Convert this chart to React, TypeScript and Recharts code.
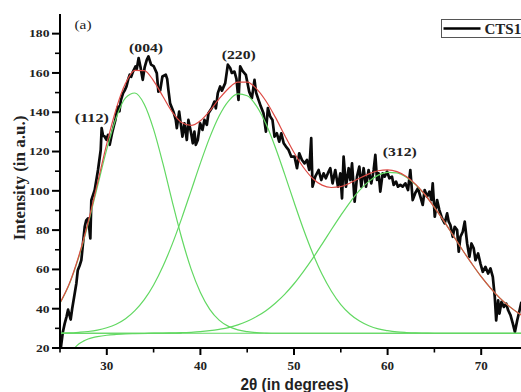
import React from 'react';
import { LineChart, Line, XAxis, YAxis, ReferenceDot } from 'recharts';

// Measured XRD pattern (2θ in degrees, intensity in a.u.)
const xrdTheta = [25.1, 25.3, 25.5, 25.7, 25.86, 26.0, 26.14, 26.3, 26.57, 26.75, 26.9, 27.1, 27.28, 27.45, 27.64, 27.8, 27.99, 28.1, 28.24, 28.35, 28.71, 29.06, 29.35, 29.45, 29.6, 29.78, 29.95, 30.13, 30.31, 30.56, 30.75, 30.92, 31.05, 31.2, 31.35, 31.5, 31.74, 31.9, 32.1, 32.3, 32.45, 32.6, 32.8, 33.06, 33.2, 33.4, 33.6, 33.84, 34.05, 34.27, 34.45, 34.73, 35.0, 35.34, 35.51, 35.7, 35.94, 36.3, 36.45, 36.58, 36.76, 37.12, 37.37, 37.48, 37.73, 37.94, 38.08, 38.29, 38.55, 38.72, 39.01, 39.19, 39.36, 39.51, 39.72, 39.97, 40.22, 40.43, 40.69, 40.86, 41.22, 41.5, 41.65, 41.86, 42.11, 42.3, 42.65, 42.93, 43.18, 43.36, 43.64, 43.85, 44.07, 44.25, 44.5, 44.86, 45.21, 45.5, 45.78, 45.95, 46.21, 46.45, 46.74, 47.0, 47.21, 47.46, 47.7, 47.92, 48.17, 48.42, 48.64, 48.9, 49.14, 49.42, 49.71, 50.06, 50.32, 50.56, 50.85, 51.13, 51.38, 51.63, 51.84, 51.98, 52.27, 52.63, 52.91, 53.16, 53.4, 53.7, 53.88, 54.12, 54.41, 54.7, 54.95, 55.13, 55.3, 55.55, 55.84, 56.02, 56.2, 56.48, 56.73, 56.98, 57.19, 57.44, 57.69, 57.97, 58.26, 58.51, 58.69, 58.87, 59.04, 59.22, 59.47, 59.69, 59.94, 60.19, 60.47, 60.65, 60.9, 61.11, 61.36, 61.61, 61.9, 62.18, 62.43, 62.68, 62.97, 63.25, 63.5, 63.75, 63.96, 64.22, 64.47, 64.68, 64.82, 65.04, 65.29, 65.53, 65.82, 66.1, 66.36, 66.53, 66.71, 66.96, 67.17, 67.43, 67.6, 67.78, 68.03, 68.24, 68.5, 68.74, 68.96, 69.2, 69.39, 69.67, 69.92, 70.17, 70.45, 70.74, 70.99, 71.24, 71.45, 71.6, 71.81, 71.95, 72.17, 72.42, 72.67, 72.88, 73.13, 73.38, 73.6, 73.85, 74.1, 74.3];
const xrdIntensity = [20.5, 28, 32.4, 36, 39.5, 37, 34.5, 40, 47.7, 53, 59.6, 62, 64.7, 73, 81.7, 85, 86, 82, 75.8, 95.3, 100.4, 110.6, 120.8, 131.9, 128, 127.6, 126, 128.5, 123.4, 129.3, 133, 136.1, 140, 142.9, 140.5, 146, 149.7, 151, 153.1, 157, 159.1, 158, 160.7, 163.3, 162, 167.6, 163, 156.5, 163, 166.7, 168.4, 164.2, 163.5, 159.9, 150.5, 151, 158.2, 159.1, 157, 151.4, 144.6, 140.3, 136.1, 131.9, 140.3, 132.7, 127.6, 134.4, 125.9, 136.1, 129.3, 124.2, 130.1, 123.4, 125.9, 134.4, 131, 136.1, 133.6, 139.5, 142.1, 145.4, 142, 149.7, 153.1, 151, 154.8, 164.2, 162.5, 160, 160.7, 157, 146.3, 163.3, 161, 159, 150.5, 147.2, 156.5, 150, 146.3, 143, 139.5, 130.1, 142.1, 137.8, 136.1, 127.6, 129.3, 125, 129.3, 124.2, 122.5, 120.8, 117.4, 117.4, 111.5, 119.1, 115.7, 114, 115.7, 110.6, 126.8, 102.1, 107.2, 110.6, 105.5, 108.9, 106.4, 109.8, 111.5, 103.8, 110.6, 102.1, 108.9, 96.2, 117.4, 102.1, 111.5, 105.5, 114, 94.5, 107.2, 112.3, 102.1, 111.5, 102.1, 110.6, 103.8, 110.6, 118.3, 105.5, 108.9, 99.6, 108.9, 107.2, 109.8, 106.4, 107.2, 103, 104.7, 102.1, 103, 102.1, 103.8, 100.4, 110.6, 95.3, 99, 101.3, 97, 92.8, 100.4, 97, 99.6, 95.3, 103.8, 86.8, 95.3, 90.2, 86, 83.4, 88.5, 84.3, 82.6, 76.6, 81.7, 80, 69, 76.6, 79.2, 84.3, 73.2, 66.4, 73.2, 70.7, 64.7, 68.1, 63, 58.8, 61.3, 57.9, 60.5, 56.2, 46, 34.1, 44.3, 37.5, 43.5, 40.9, 42.6, 39.2, 36.7, 32.4, 28.2, 34.1, 39.2, 43.5];

// Fitted curves, read at whole degrees 25..75
const fitTheta = [25, 26, 27, 28, 29, 30, 31, 32, 33, 34, 35, 36, 37, 38, 39, 40, 41, 42, 43, 44, 45, 46, 47, 48, 49, 50, 51, 52, 53, 54, 55, 56, 57, 58, 59, 60, 61, 62, 63, 64, 65, 66, 67, 68, 69, 70, 71, 72, 73, 74, 75];
const fitEnvelope = [42.9, 52.8, 66.7, 84.0, 103.8, 124.0, 141.7, 154.7, 161.3, 161.2, 156.0, 148.0, 140.1, 134.8, 133.3, 135.7, 140.7, 146.8, 152.1, 155.3, 155.3, 151.9, 145.7, 137.5, 128.3, 119.5, 112.0, 106.3, 102.9, 101.7, 102.1, 104.0, 106.4, 108.6, 110.2, 110.7, 109.8, 107.3, 103.3, 98.0, 91.6, 84.7, 77.3, 69.9, 62.9, 56.3, 50.5, 45.4, 41.2, 37.7, 34.9];
const peakA = [42.8, 52.6, 66.2, 83.1, 102.2, 121.2, 137.1, 147.3, 149.8, 144.1, 131.3, 113.8, 94.4, 76.0, 60.3, 48.3, 39.7, 34.2, 31.0, 29.2, 28.3, 27.8, 27.6, 27.5, 27.5, 27.5, 27.5, 27.5, 27.5, 27.5, 27.5, 27.5, 27.5, 27.5, 27.5, 27.5, 27.5, 27.5, 27.5, 27.5, 27.5, 27.5, 27.5, 27.5, 27.5, 27.5, 27.5, 27.5, 27.5, 27.5, 27.5];
const peakB = [27.6, 27.7, 28.0, 28.4, 29.1, 30.3, 32.1, 34.9, 39.0, 44.6, 52.1, 61.6, 73.0, 86.0, 100.0, 114.1, 127.2, 138.1, 145.7, 149.3, 148.4, 143.1, 134.1, 122.2, 108.5, 94.3, 80.6, 68.2, 57.5, 48.9, 42.1, 37.2, 33.7, 31.3, 29.7, 28.8, 28.2, 27.9, 27.7, 27.6, 27.5, 27.5, 27.5, 27.5, 27.5, 27.5, 27.5, 27.5, 27.5, 27.5, 27.5];
const peakC = [27.5, 27.5, 27.5, 27.5, 27.5, 27.5, 27.5, 27.5, 27.5, 27.5, 27.6, 27.6, 27.7, 27.8, 28.0, 28.3, 28.8, 29.5, 30.4, 31.8, 33.6, 36.0, 39.0, 42.8, 47.3, 52.7, 58.9, 65.6, 72.9, 80.3, 87.5, 94.3, 100.2, 104.8, 108.0, 109.4, 109.1, 106.9, 103.1, 97.9, 91.6, 84.7, 77.3, 69.9, 62.9, 56.3, 50.5, 45.4, 41.2, 37.7, 34.9];
const baseTheta = [25, 75];
const baseLevel = [27.5, 27.5];
const tailTheta = [26.6, 27.0, 27.5, 28.0, 28.5, 29.0, 30.0, 31.0, 32.0, 33.0, 35.0, 38.0];
const tailLevel = [20.2, 22.0, 23.5, 24.6, 25.3, 25.8, 26.5, 26.9, 27.2, 27.3, 27.4, 27.5];

// Axis ticks
const xTicks = [25, 30, 35, 40, 45, 50, 55, 60, 65, 70, 75];
const yTicks = [20, 30, 40, 50, 60, 70, 80, 90, 100, 110, 120, 130, 140, 150, 160, 170, 180];

// Annotations
const peakNames = ['(112)', '(004)', '(220)', '(312)'];
const peakNameTheta = [28.4, 34.2, 44.1, 61.3];
const peakNameIntensity = [137.2, 172.8, 169.3, 119.8];

const pairs = (xs: number[], ys: number[]) => xs.map((x, i) => ({ x, y: ys[i] }));

const xrdData = pairs(xrdTheta, xrdIntensity);
const envData = pairs(fitTheta, fitEnvelope);
const aData = pairs(fitTheta, peakA);
const bData = pairs(fitTheta, peakB);
const cData = pairs(fitTheta, peakC);
const baseData = pairs(baseTheta, baseLevel);
const tailData = pairs(tailTheta, tailLevel);

const SERIF = "Liberation Serif, Tinos, Times New Roman, serif";
const SANS = "Liberation Sans, Arimo, Arial, sans-serif";
const GREEN = '#62d862';
const RED = '#dd4a44';

const serifStyle = (size: number, bold: boolean) => ({
  fontFamily: SERIF,
  fontSize: size,
  fontWeight: bold ? 700 : 400,
});

const renderXTick = (props: any) => {
  const { x, y, payload } = props;
  const v = payload.value;
  const major = v % 10 === 0;
  return (
    <g>
      <line x1={x} y1={y} x2={x} y2={y + (major ? 7 : 4.5)} stroke="#000" strokeWidth={major ? 2 : 1.6} />
      {major && v < 75 ? (
        <text x={x} y={y + 21.5} textAnchor="middle" style={serifStyle(13, true)} fill="#222">
          {v}
        </text>
      ) : null}
    </g>
  );
};

const renderYTick = (props: any) => {
  const { x, y, payload } = props;
  const v = payload.value;
  const major = v % 20 === 0;
  const label = String(v);
  return (
    <g>
      <line x1={x - (major ? 8 : 5)} y1={y} x2={x} y2={y} stroke="#000" strokeWidth={major ? 2 : 1.6} />
      {major ? (
        <text
          x={x - 10.5}
          y={y + 3.8}
          textAnchor="end"
          style={serifStyle(11, true)}
          fill="#222"
          textLength={label.length === 3 ? 20.5 : 13.5}
          lengthAdjust="spacingAndGlyphs"
        >
          {label}
        </text>
      ) : null}
    </g>
  );
};

const XTitle = (props: any) => {
  const vb = props.viewBox || { x: 60, y: 348, width: 467.5, height: 44 };
  return (
    <text
      x={vb.x + vb.width / 2 + 0.5}
      y={vb.y + 41.5}
      textAnchor="middle"
      style={{ fontFamily: SANS, fontSize: 16, fontWeight: 700 }}
      fill="#222"
      textLength={108}
      lengthAdjust="spacingAndGlyphs"
    >
      2θ (in degrees)
    </text>
  );
};

const YTitle = () => (
  <text
    x={25}
    y={178}
    transform="rotate(-90 25 178)"
    textAnchor="middle"
    style={serifStyle(17, true)}
    fill="#222"
  >
    Intensity (in a.u.)
  </text>
);

const makeNote = (text: string, bold: boolean, len: number) => (props: any) => {
  const vb = props.viewBox || { x: 0, y: 0, width: 0, height: 0 };
  const cx = vb.x + (vb.width || 0) / 2;
  const cy = vb.y + (vb.height || 0) / 2;
  return (
    <text
      x={cx}
      y={cy + 4.2}
      textAnchor="middle"
      style={serifStyle(13, bold)}
      fill="#222"
      textLength={len}
      lengthAdjust="spacingAndGlyphs"
    >
      {text}
    </text>
  );
};

export default function App() {
  return (
    <div style={{ position: 'absolute', left: 0, top: 0, width: 521, height: 392, overflow: 'hidden', background: '#fff' }}>
      <LineChart width={550} height={392} margin={{ top: 14, right: 22, bottom: 0, left: 0 }}>
        <XAxis
          dataKey="x"
          type="number"
          domain={[25, 75]}
          ticks={xTicks}
          interval={0}
          allowDataOverflow
          height={44}
          tickLine={false}
          tickSize={0}
          tickMargin={0}
          tick={renderXTick}
          axisLine={{ stroke: '#000', strokeWidth: 2 }}
          label={{ content: XTitle }}
        />
        <XAxis
          xAxisId="top"
          orientation="top"
          type="number"
          domain={[25, 75]}
          allowDataOverflow
          height={0}
          tick={false}
          tickLine={false}
          axisLine={{ stroke: '#000', strokeWidth: 2 }}
        />
        <YAxis
          type="number"
          domain={[20, 190]}
          ticks={yTicks}
          interval={0}
          allowDataOverflow
          width={60}
          tickLine={false}
          tickSize={0}
          tickMargin={0}
          tick={renderYTick}
          axisLine={{ stroke: '#000', strokeWidth: 2 }}
          label={{ content: YTitle }}
        />
        <Line data={xrdData} dataKey="y" type="linear" stroke="#0a0a0a" strokeWidth={2.7} strokeLinejoin="round" dot={false} isAnimationActive={false} />
        <Line data={baseData} dataKey="y" type="linear" stroke={GREEN} strokeWidth={1.2} dot={false} isAnimationActive={false} />
        <Line data={tailData} dataKey="y" type="monotone" stroke={GREEN} strokeWidth={1.2} dot={false} isAnimationActive={false} />
        <Line data={aData} dataKey="y" type="monotone" stroke={GREEN} strokeWidth={1.2} dot={false} isAnimationActive={false} />
        <Line data={bData} dataKey="y" type="monotone" stroke={GREEN} strokeWidth={1.2} dot={false} isAnimationActive={false} />
        <Line data={cData} dataKey="y" type="monotone" stroke={GREEN} strokeWidth={1.2} dot={false} isAnimationActive={false} />
        <Line data={envData} dataKey="y" type="monotone" stroke={RED} strokeWidth={1.2} dot={false} isAnimationActive={false} />
        {peakNames.map((name, i) => (
          <ReferenceDot
            key={name}
            x={peakNameTheta[i]}
            y={peakNameIntensity[i]}
            r={0}
            fill="none"
            stroke="none"
            ifOverflow="visible"
            label={{ content: makeNote(name, true, 34) }}
          />
        ))}
        <ReferenceDot x={27.46} y={184.6} r={0} fill="none" stroke="none" ifOverflow="visible" label={{ content: makeNote('(a)', false, 17) }} />
      </LineChart>
      <div
        style={{
          position: 'absolute',
          left: 441,
          top: 19,
          width: 95,
          height: 17,
          border: '1px solid #555',
          background: '#fff',
        }}
      >
        <svg width={95} height={17} style={{ position: 'absolute', left: 0, top: 0 }}>
          <line x1={1.5} y1={8.5} x2={38.5} y2={8.5} stroke="#000" strokeWidth={2.6} />
          <text x={42.5} y={13.5} style={serifStyle(15, true)} fill="#222">
            CTS1
          </text>
        </svg>
      </div>
    </div>
  );
}
